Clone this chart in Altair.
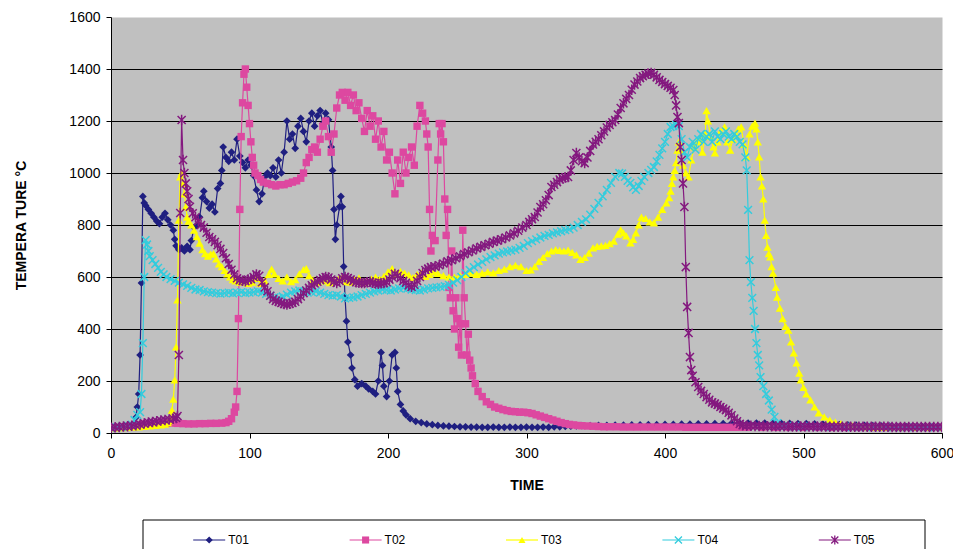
import altair as alt
import pandas as pd

# ---------------- data ----------------
series_names = ["T01", "T02", "T03", "T04", "T05"]
series_colors = ["#1F1F80", "#DD48A0", "#FFFF00", "#33CCDD", "#84197F"]
series_shapes = [
    "diamond",
    "square",
    "triangle-up",
    "M-1,-1L1,1M-1,1L1,-1",
    "M-1,-1L1,1M-1,1L1,-1M0,-1.3L0,1.3",
]
series_filled = [True, True, True, False, False]
series_sizes = [60, 55, 70, 60, 65]

x_ticks = [0, 100, 200, 300, 400, 500, 600]
y_ticks = [0, 200, 400, 600, 800, 1000, 1200, 1400, 1600]

# (time, temperature) pairs per thermocouple
T01 = [(0,20),(4,21),(8,22),(12,24),(15,26),(17,35),(18,60),(19,100),(20,150),(21,300),
       (22,577),(23,910),(24,885),(25,875),(27,860),(29,845),(31,830),(33,815),(35,805),(37,830),
       (39,845),(41,820),(43,800),(45,780),(46,745),(47,720),(49,705),(51,712),(53,700),(55,718),
       (57,705),(58,740),(60,790),(62,800),(64,830),(66,905),(67,930),(69,890),(71,865),(73,880),
       (75,850),(77,940),(79,960),(80,1010),(81,1100),(83,1060),(85,1045),(87,1080),(89,1050),(91,1130),
       (93,1065),(95,1040),(97,1020),(99,1050),(101,1030),(103,990),(105,935),(107,890),(109,920),(111,985),
       (113,1000),(115,990),(117,1020),(119,985),(121,1050),(123,1000),(125,1080),(127,1200),(129,1130),(131,1150),
       (133,1095),(135,1180),(137,1210),(139,1160),(141,1120),(143,1200),(145,1230),(147,1180),(149,1220),(151,1240),
       (153,1190),(155,1230),(157,1205),(159,1100),(160,1010),(161,860),(162,745),(163,800),(165,870),(166,910),
       (167,870),(168,640),(169,520),(170,430),(171,350),(173,300),(174,250),(176,205),(178,180),(181,190),
       (184,180),(186,170),(189,160),(191,150),(193,200),(195,310),(196,260),(197,180),(199,140),(201,200),
       (203,300),(205,310),(206,250),(207,160),(209,110),(211,85),(213,70),(216,55),(220,45),(224,40),
       (228,35),(232,32),(236,29),(240,27),(244,26),(248,25),(252,24),(256,24),(260,23),(264,23),
       (268,22),(272,22),(276,23),(280,22),(284,22),(288,23),(292,22),(296,22),(300,23),(304,22),
       (308,22),(312,23),(316,22),(320,24),(324,24),(328,25),(332,26),(336,27),(340,28),(346,28),
       (352,29),(358,29),(364,30),(370,30),(376,31),(382,31),(388,32),(394,32),(400,33),(406,33),
       (412,34),(418,34),(424,35),(430,35),(436,36),(442,36),(448,37),(454,37),(460,38),(466,38),
       (472,38),(478,37),(484,37),(490,37),(496,36),(502,36),(508,35),(514,34),(520,33),(526,32),
       (532,31),(538,30),(544,29),(550,28),(556,27),(562,26),(568,25),(574,25),(580,24),(586,24),
       (592,23),(598,23)]

T02 = [(0,20),(4,22),(8,24),(12,26),(16,29),(20,32),(24,34),(28,35),(32,36),(36,37),
       (40,38),(44,38),(48,37),(52,36),(56,35),(60,35),(64,36),(68,36),(72,37),(76,37),
       (80,38),(83,40),(85,45),(87,55),(89,80),(90,100),(91,160),(92,440),(93,860),(94,1140),
       (95,1270),(96,1380),(97,1400),(98,1330),(99,1260),(100,1190),(101,1120),(102,1060),(103,1030),(104,1000),
       (106,990),(108,975),(110,965),(113,960),(116,955),(119,950),(122,955),(125,955),(128,960),(131,965),
       (134,970),(137,980),(139,1000),(141,1040),(143,1060),(145,1090),(147,1100),(149,1080),(151,1130),(153,1180),
       (155,1200),(157,1140),(159,1080),(161,1150),(163,1250),(165,1300),(167,1310),(169,1280),(171,1310),(173,1260),
       (175,1300),(177,1240),(179,1270),(181,1210),(183,1160),(185,1240),(187,1180),(189,1220),(191,1130),(193,1200),
       (195,1100),(197,1160),(199,1050),(201,1080),(203,1000),(205,920),(207,1050),(209,960),(211,1080),(213,1000),
       (215,1060),(217,1100),(219,1030),(221,1180),(223,1260),(225,1230),(227,1200),(228,1150),(229,1100),(230,860),
       (231,700),(232,760),(234,740),(236,1050),(237,1190),(238,1150),(239,1190),(240,1120),(241,900),(242,760),
       (243,860),(244,560),(245,520),(246,700),(247,470),(248,400),(249,520),(250,440),(251,330),(252,420),
       (253,300),(254,780),(255,520),(256,420),(257,300),(258,380),(259,280),(260,250),(261,220),(263,190),
       (265,160),(268,140),(271,120),(274,110),(277,100),(280,95),(283,90),(286,86),(289,83),(292,82),
       (295,80),(298,80),(301,78),(304,75),(307,70),(310,65),(313,60),(316,55),(319,50),(322,45),
       (325,40),(328,36),(331,33),(334,31),(337,29),(340,28),(344,27),(348,26),(352,25),(356,24),
       (360,24),(365,24),(370,23),(375,23),(380,23),(385,23),(390,23),(395,23),(400,23),(405,23),
       (410,23),(415,22),(420,22),(425,22),(430,22),(435,22),(440,22),(445,22),(450,22),(455,22),
       (460,22),(470,22),(480,22),(490,22),(500,22),(510,22),(520,22),(530,22),(540,22),(550,22),
       (560,22),(570,22),(580,22),(590,22),(600,22)]

T03 = [(0,20),(4,20),(8,21),(12,22),(16,23),(20,24),(24,25),(28,27),(32,29),(36,31),
       (39,34),(41,40),(42,48),(43,60),(44,88),(45,130),(46,204),(47,331),(48,512),(49,819),
       (50,985),(51,1000),(52,960),(53,920),(54,870),(55,830),(56,815),(58,800),(60,780),(62,755),
       (64,730),(66,705),(68,690),(70,680),(72,688),(74,690),(76,670),(78,650),(80,640),(82,625),
       (84,612),(86,600),(88,590),(90,585),(93,580),(96,585),(99,575),(102,580),(105,595),(108,575),
       (111,585),(114,610),(116,630),(118,612),(121,595),(124,585),(127,600),(130,582),(133,590),(136,612),
       (139,628),(141,632),(143,605),(146,590),(149,580),(152,590),(155,585),(158,578),(161,585),(164,592),
       (167,598),(170,582),(173,580),(176,590),(179,597),(182,580),(185,585),(188,592),(191,600),(194,592),
       (197,602),(200,620),(203,632),(206,612),(209,622),(212,615),(215,608),(218,598),(221,610),(224,616),
       (227,602),(230,610),(233,620),(236,614),(240,605),(244,600),(248,600),(252,605),(256,610),(260,615),
       (264,610),(268,615),(272,620),(276,616),(280,625),(284,630),(288,640),(292,645),(296,640),(300,625),
       (303,627),(306,640),(309,660),(312,675),(315,690),(318,700),(321,705),(324,702),(327,700),(330,703),
       (333,695),(336,685),(339,668),(342,675),(345,692),(348,712),(351,718),(354,720),(357,722),(360,728),
       (363,738),(366,765),(368,781),(370,770),(372,758),(375,731),(377,745),(379,770),(381,800),(383,830),
       (386,825),(389,812),(392,808),(395,830),(398,860),(401,885),(403,905),(404,930),(405,960),(406,985),
       (407,1010),(408,1040),(409,1088),(410,1120),(411,1090),(413,1030),(415,1000),(417,985),(419,1050),(421,1100),
       (423,1120),(425,1130),(427,1080),(429,1150),(430,1240),(431,1200),(433,1140),(435,1100),(436,1077),(438,1120),
       (440,1160),(443,1177),(445,1120),(447,1088),(449,1130),(451,1150),(453,1170),(455,1177),(457,1110),(459,1062),
       (461,1150),(463,1180),(465,1192),(466,1170),(467,1120),(468,1062),(469,985),(470,950),(471,900),(472,819),
       (473,760),(474,715),(475,690),(476,677),(477,640),(478,615),(480,560),(481,523),(483,480),(485,440),
       (487,410),(489,396),(491,350),(493,308),(495,270),(497,230),(498,204),(500,175),(502,150),(505,127),
       (508,100),(511,77),(515,62),(519,50),(523,42),(527,36),(531,31),(535,28),(539,26),(543,25),
       (547,24),(551,23),(556,22),(562,22),(570,22),(580,22),(590,22),(600,22)]

T04 = [(0,20),(4,22),(8,24),(12,27),(15,32),(17,50),(19,70),(21,80),(22,150),(23,346),
       (24,600),(25,742),(26,725),(27,700),(28,680),(30,665),(32,650),(34,635),(36,620),(38,610),
       (40,600),(43,592),(46,585),(49,578),(52,572),(55,566),(58,558),(61,552),(64,550),(67,545),
       (70,542),(73,540),(76,538),(79,536),(82,538),(85,540),(88,537),(91,540),(94,542),(97,538),
       (100,540),(103,542),(106,545),(109,540),(112,535),(115,528),(118,522),(121,520),(124,525),(127,532),
       (130,540),(133,545),(136,548),(139,545),(142,540),(145,542),(148,545),(151,540),(154,535),(157,530),
       (160,528),(163,530),(166,525),(169,518),(172,520),(175,522),(178,525),(181,530),(184,535),(187,540),
       (190,545),(193,548),(196,552),(199,550),(202,548),(205,552),(208,556),(211,558),(214,555),(217,552),
       (220,550),(223,548),(226,552),(229,556),(232,558),(235,560),(238,562),(241,565),(244,570),(247,578),
       (250,588),(253,600),(256,615),(259,627),(262,638),(265,648),(268,658),(271,668),(274,677),(277,683),
       (280,690),(283,695),(286,698),(289,702),(292,705),(295,712),(298,720),(301,730),(304,738),(307,745),
       (310,752),(313,758),(316,762),(319,768),(322,772),(325,776),(328,780),(331,783),(334,790),(337,800),
       (340,812),(343,822),(346,840),(349,862),(352,885),(355,910),(358,935),(361,962),(364,985),(367,1000),
       (369,998),(371,985),(373,970),(375,962),(377,945),(379,935),(381,950),(383,970),(385,985),(388,1000),
       (390,1012),(392,1023),(394,1045),(396,1070),(398,1095),(400,1120),(402,1150),(404,1177),(406,1180),(408,1185),
       (410,1180),(412,1130),(414,1080),(416,1060),(418,1100),(420,1120),(422,1090),(424,1130),(426,1150),(428,1120),
       (430,1140),(432,1150),(434,1120),(436,1160),(438,1140),(440,1130),(442,1150),(444,1160),(446,1140),(448,1130),
       (450,1150),(452,1140),(454,1120),(456,1110),(458,1060),(459,1010),(460,858),(461,665),(462,580),(463,520),
       (464,470),(465,400),(466,346),(467,300),(468,260),(469,215),(471,180),(473,150),(475,125),(477,90),
       (479,62),(481,38),(484,28),(488,26),(494,25),(500,25),(510,24),(520,24),(530,23),(540,23),
       (550,23),(560,22),(570,22),(580,22),(590,22),(600,22)]

T05 = [(0,20),(3,22),(6,23),(9,25),(12,26),(15,28),(18,30),(21,33),(24,37),(27,40),
       (30,42),(33,45),(36,48),(39,50),(42,52),(45,55),(47,58),(48,65),(49,300),(50,846),
       (51,1204),(52,1050),(53,1000),(54,960),(55,930),(56,900),(57,870),(59,845),(61,830),(63,815),
       (65,800),(67,790),(69,770),(71,754),(73,745),(75,735),(77,722),(79,708),(81,692),(83,672),
       (85,650),(87,628),(89,610),(91,595),(93,588),(95,586),(97,584),(99,590),(101,592),(103,600),
       (105,610),(107,605),(109,580),(111,560),(113,545),(115,528),(117,515),(119,508),(121,505),(123,500),
       (125,496),(127,494),(129,497),(131,500),(133,505),(135,515),(137,525),(139,538),(141,548),(143,558),
       (145,568),(147,575),(149,582),(151,588),(153,595),(155,600),(157,598),(159,590),(161,582),(163,577),
       (165,585),(167,595),(169,600),(171,596),(173,590),(175,585),(177,580),(179,578),(181,577),(183,577),
       (185,580),(187,582),(189,578),(191,575),(193,574),(195,576),(197,577),(199,580),(201,590),(203,600),
       (205,612),(207,605),(209,595),(211,585),(213,578),(215,568),(217,562),(219,570),(221,585),(223,600),
       (225,615),(227,627),(229,632),(231,638),(234,640),(237,645),(240,652),(243,660),(246,665),(249,672),
       (252,680),(255,688),(258,695),(261,702),(264,710),(267,716),(270,722),(273,728),(276,735),(279,740),
       (282,745),(285,752),(288,760),(291,768),(294,778),(297,790),(300,800),(302,812),(304,822),(306,831),
       (308,848),(310,869),(312,880),(314,895),(316,915),(318,946),(320,955),(322,965),(324,975),(326,980),
       (328,983),(330,985),(332,1010),(334,1050),(336,1077),(338,1060),(340,1045),(342,1038),(344,1060),(346,1085),
       (348,1110),(350,1120),(352,1130),(354,1145),(356,1160),(358,1175),(360,1185),(362,1195),(364,1204),(366,1225),
       (368,1250),(370,1268),(372,1285),(374,1300),(376,1320),(378,1340),(380,1352),(382,1365),(384,1372),(386,1378),
       (388,1382),(390,1385),(392,1378),(394,1368),(396,1358),(398,1350),(400,1342),(402,1335),(404,1328),(406,1319),
       (407,1300),(408,1260),(409,1215),(410,1192),(411,1100),(412,1050),(413,960),(414,869),(415,638),(416,485),
       (417,385),(418,292),(419,242),(420,220),(422,195),(424,177),(426,162),(428,150),(430,138),(432,128),
       (434,118),(436,113),(438,108),(440,100),(442,94),(444,88),(446,78),(448,68),(450,56),(452,45),
       (454,35),(456,30),(459,28),(462,28),(465,27),(468,27),(471,27),(474,26),(477,26),(480,26),
       (483,26),(486,26),(489,25),(492,25),(495,25),(498,25),(501,25),(504,25),(507,25),(510,25),
       (513,25),(516,25),(519,24),(522,24),(525,24),(528,24),(531,24),(534,24),(537,24),(540,24),
       (543,24),(546,24),(549,24),(552,24),(555,24),(558,24),(561,24),(564,23),(567,23),(570,23),
       (573,23),(576,23),(579,23),(582,23),(585,23),(588,23),(591,23),(594,23),(597,23),(600,23)]

series_data = [T01, T02, T03, T04, T05]

FONT = "Liberation Sans"
PLOT_W, PLOT_H = 831, 416

# ---------------- main plot ----------------
x_enc = alt.X(
    "time:Q",
    title="TIME",
    scale=alt.Scale(domain=[0, 600], nice=False, zero=False),
    axis=alt.Axis(
        values=x_ticks, grid=False, tickSize=5, tickColor="black",
        domainColor="black", labelColor="black", labelFont=FONT, labelFontSize=14,
        labelPadding=8, labelFlush=False, labelOverlap=False, format="d",
        titleFont=FONT, titleFontSize=14, titleFontWeight="bold", titleColor="black",
        titlePadding=18,
    ),
)
y_enc = alt.Y(
    "temp:Q",
    title="TEMPERA TURE °C",
    scale=alt.Scale(domain=[0, 1600], nice=False),
    axis=alt.Axis(
        values=y_ticks, grid=True, gridColor="black", gridWidth=1,
        gridOpacity={"condition": {"test": "datum.value >= 1600", "value": 0}, "value": 1},
        tickSize=5, tickColor="black", domainColor="black", labelColor="black",
        labelFont=FONT, labelFontSize=14, labelPadding=6, labelFlush=False,
        labelOverlap=False, format="d",
        titleFont=FONT, titleFontSize=14, titleFontWeight="bold", titleColor="black",
        titlePadding=40,
    ),
)

layers = []
for name, color, pairs, shape, filled, size in zip(
    series_names, series_colors, series_data, series_shapes, series_filled, series_sizes
):
    df = pd.DataFrame(pairs, columns=["time", "temp"])
    df["series"] = name
    base = alt.Chart(df).encode(x=x_enc, y=y_enc)
    layers.append(base.mark_line(color=color, strokeWidth=1.2, clip=True))
    if filled:
        layers.append(base.mark_point(shape=shape, filled=True, color=color,
                                      size=size, opacity=1, clip=True))
    else:
        layers.append(base.mark_point(shape=shape, filled=False, color=color,
                                      strokeWidth=1.5, size=size, opacity=1, clip=True))

main = alt.layer(*layers)

# ---------------- legend box (below the plot) ----------------
legend_df = pd.DataFrame({"series": series_names, "slot": list(range(len(series_names)))})
lx = alt.X("slot:Q", scale=alt.Scale(domain=[-0.5, 4.5], range=[32, 814], nice=False, zero=False),
           axis=None)
lcolor = alt.Color("series:N", scale=alt.Scale(domain=series_names, range=series_colors), legend=None)
lshape = alt.Shape("series:N", scale=alt.Scale(domain=series_names, range=series_shapes), legend=None)
LEG_Y = 523

box = alt.Chart(pd.DataFrame({"box": ["legend"]})).mark_rect(
    fill="white", stroke="black", strokeWidth=1).encode(
    x=alt.value(32), x2=alt.value(814), y=alt.value(503), y2=alt.value(560))

lbase = alt.Chart(legend_df)
leg_rule = lbase.mark_rule(strokeWidth=1.2, xOffset=-28, x2Offset=4).encode(
    x=lx, x2=alt.X2("slot"), y=alt.value(LEG_Y), color=lcolor)
leg_fill = lbase.transform_filter("datum.slot < 3").mark_point(
    filled=True, size=50, opacity=1, xOffset=-12).encode(
    x=lx, y=alt.value(LEG_Y), color=lcolor, shape=lshape)
leg_stroke = lbase.transform_filter("datum.slot >= 3").mark_point(
    filled=False, size=50, opacity=1, strokeWidth=1.3, xOffset=-12).encode(
    x=lx, y=alt.value(LEG_Y), color=lcolor, shape=lshape)
leg_text = lbase.mark_text(align="left", baseline="middle", xOffset=7,
                           font=FONT, fontSize=12, color="black").encode(
    x=lx, y=alt.value(LEG_Y), text="series:N")

legend_layer = alt.layer(box, leg_rule, leg_fill, leg_stroke, leg_text)

chart = alt.layer(main, legend_layer).resolve_scale(
    x="independent", color="independent", shape="independent"
).properties(
    width=PLOT_W, height=PLOT_H,
    view=alt.ViewBackground(fill="#C0C0C0", stroke="transparent"),
    autosize=alt.AutoSizeParams(type="none"),
    padding={"left": 103, "top": 9, "right": 11, "bottom": 116},
    background="white",
)

chart.save("out.html", embed_options={"renderer": "svg", "actions": False})
